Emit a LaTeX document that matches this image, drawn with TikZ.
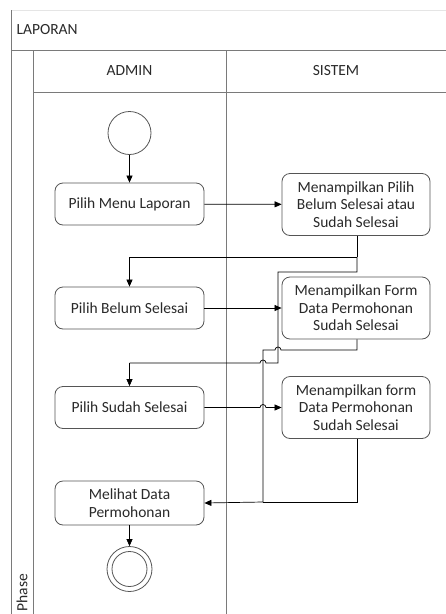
\documentclass[tikz,border=0pt]{standalone}
\usepackage{fontspec}
\setmainfont{Carlito}
\usetikzlibrary{arrows.meta}
\definecolor{ink}{HTML}{2A2A2A}
\definecolor{edge}{HTML}{555555}
\definecolor{lane}{HTML}{7A7A7A}
\tikzset{
  act/.style={draw=edge, line width=0.8pt, rounded corners=8pt, fill=white,
    text=ink, align=center, font=\fontsize{15.5}{17.5}\selectfont,
    minimum width=149pt, minimum height=42pt, inner sep=2pt},
  sysact/.style={act, minimum width=148pt, minimum height=62pt},
  flow/.style={draw=black, line width=0.7pt, -{Triangle[length=7pt,width=6pt]}},
  wire/.style={draw=black, line width=0.7pt},
  lanel/.style={draw=lane, line width=0.8pt},
  hdr/.style={text=ink, font=\fontsize{15.5}{17}\selectfont},
}
\begin{document}
\begin{tikzpicture}[x=1pt, y=-1pt]
\useasboundingbox (0,0) rectangle (446,614);
\fill[white] (0,0) rectangle (446,614);

% swimlane frame
\draw[draw=black!10, line width=0.8pt] (11,10) -- (446,10);
\draw[lanel] (11,10) -- (11,614);
\draw[lanel] (11,50) -- (446,50);
\draw[lanel] (33,92) -- (446,92);
\draw[lanel] (33,50) -- (33,614);
\draw[lanel] (226,50) -- (226,614);
\node[hdr, anchor=west] (title) at (13,30) {LAPORAN};
\node[hdr] (admin) at (129.5,71) {ADMIN};
\node[hdr] (sistem) at (336,71) {SISTEM};
\node[hdr, rotate=90, anchor=west] (phase) at (22,615) {Phase};

% activities
\node[circle, draw=edge, line width=0.8pt, minimum size=43pt, inner sep=0pt] (start) at (129.5,133) {};
\node[act] (menu) at (129.5,204) {Pilih Menu Laporan};
\node[sysact] (showpick) at (356,204.5) {Menampilkan Pilih\\Belum Selesai atau\\Sudah Selesai};
\node[act] (belum) at (129.5,308) {Pilih Belum Selesai};
\node[sysact] (formbelum) at (356,308) {Menampilkan Form\\Data Permohonan\\Sudah Selesai};
\node[act] (sudah) at (129.5,407.5) {Pilih Sudah Selesai};
\node[sysact] (formsudah) at (356,407.5) {Menampilkan form\\Data Permohonan\\Sudah Selesai};
\node[act, minimum height=44pt] (lihat) at (129.5,503) {Melihat Data\\Permohonan};
\node[circle, draw=edge, line width=0.8pt, minimum size=45pt, inner sep=0pt] (stop) at (129.5,569) {};
\node[circle, draw=edge, line width=0.8pt, minimum size=35pt, inner sep=0pt] (stopin) at (stop) {};

% routing points
\coordinate (split) at (357,257);
\coordinate (split2) at (357,272);
\coordinate (mergeA) at (263,502);
\coordinate (mergeB) at (357,502);

% connectors
\draw[flow] (start) -- (menu);
\draw[flow] (menu) -- (showpick);
\draw[wire] (showpick.south -| split) -- (split);
\draw[flow] (split) -| (belum.north);
\draw[wire] (split) -- (split2) -- (278,272) -- (278,363) -- (266,363)
  arc[start angle=0, end angle=180, radius=3pt] -- (129.5,363);
\draw[flow] (129.5,363) -- (sudah.north);
\draw[flow] (belum) -- (formbelum);
\draw[wire] (formbelum.south -| split) -- (357,350) -- (281,350)
  arc[start angle=0, end angle=180, radius=3pt] -- (263,350) -- (mergeA);
\draw[flow] (sudah.east) -- (260,407.5) arc[start angle=180, end angle=0, radius=3pt]
  -- (formsudah.west);
\draw[wire] (formsudah.south -| mergeB) -- (mergeB) -- (mergeA);
\draw[flow] (mergeA) -- (lihat.east);
\draw[flow] (lihat) -- (stop);
\end{tikzpicture}
\end{document}
